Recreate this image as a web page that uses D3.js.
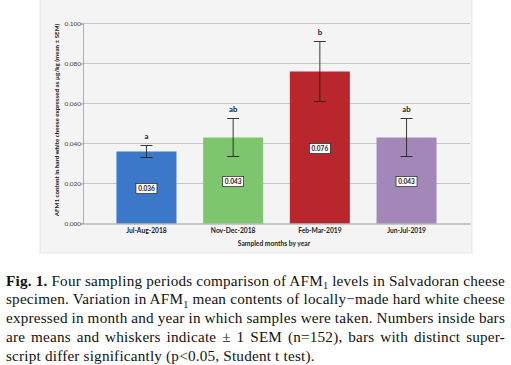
<!DOCTYPE html>
<html><head><meta charset="utf-8">
<script src="https://cdn.jsdelivr.net/npm/d3@7/dist/d3.min.js"></script>
<style>body{margin:0;background:#fff}svg{display:block}</style>
</head><body>
<svg id="c" width="511" height="365"></svg>
<script>
const categories = ["Jul-Aug-2018","Nov-Dec-2018","Feb-Mar-2019","Jun-Jul-2019"];
const means = [0.036, 0.043, 0.076, 0.043];
const sem = [0.003, 0.0095, 0.015, 0.0095];
const letters = ["a","ab","b","ab"];
const colors = ["#3b78c9","#7dc66d","#b9262e","#a287b8"];
const yTicks = [0, 0.02, 0.04, 0.06, 0.08, 0.10];
const captionLines = [
  [["b","Fig. 1."],["n","  Four sampling periods comparison of AFM"],["s","1"],["n"," levels in Salvadoran cheese"]],
  [["n","specimen. Variation in AFM"],["s","1"],["n"," mean contents of locally\u2212made hard white cheese"]],
  [["n","expressed in month and year in which samples were taken. Numbers inside bars"]],
  [["n","are means and whiskers indicate \u00b1 1 SEM (n=152), bars with distinct super-"]],
  [["n","script differ significantly (p<0.05, Student t test)."]]
];

const svg = d3.select("#c");
const sans = "Lato, 'Open Sans', sans-serif";

// panel
svg.append("rect").attr("x",40).attr("y",-1).attr("width",432).attr("height",254)
  .attr("fill","#f4f4f4").attr("stroke","#e2e2e2").attr("stroke-width",0.8);

const x = d3.scaleBand().domain(categories).range([83,470]).paddingInner(0.308).paddingOuter(0.386);
const y = d3.scaleLinear().domain([0,0.1]).range([223.5,23.5]);

// gridlines
svg.append("g").selectAll("line").data(yTicks.slice(1)).join("line")
  .attr("x1",83).attr("x2",470).attr("y1",d=>y(d)).attr("y2",d=>y(d))
  .attr("stroke","#b9b9b9").attr("stroke-width",0.8);

// y axis
const ya = svg.append("g").attr("transform","translate(83,0)")
  .call(d3.axisLeft(y).tickValues(yTicks).tickFormat(d3.format(".3f")).tickSize(2).tickPadding(0));
ya.select(".domain").attr("stroke","#9a9a9a").attr("stroke-width",0.8);
ya.selectAll(".tick line").attr("stroke","#9a9a9a");
ya.selectAll("text").attr("font-family",sans).attr("font-size",6.5).attr("fill","#444");

// bars
svg.append("g").selectAll("rect").data(categories).join("rect")
  .attr("x",d=>x(d)).attr("width",x.bandwidth())
  .attr("y",(d,i)=>y(means[i])).attr("height",(d,i)=>y(0)-y(means[i]))
  .attr("fill",(d,i)=>colors[i]);

// x axis
const xa = svg.append("g").attr("transform",`translate(0,${y(0)})`)
  .call(d3.axisBottom(x).tickSize(0).tickPadding(5));
xa.select(".domain").attr("stroke","#9a9a9a").attr("stroke-width",1.2);
xa.selectAll("text").attr("font-family",sans).attr("font-size",6.7).attr("font-weight","bold").attr("fill","#222");

// error bars
const eb = svg.append("g").attr("stroke","#222").attr("stroke-width",0.9);
categories.forEach((c,i)=>{
  const cx = x(c)+x.bandwidth()/2;
  eb.append("line").attr("x1",cx).attr("x2",cx).attr("y1",y(means[i]+sem[i])).attr("y2",y(means[i]-sem[i]));
  eb.append("line").attr("x1",cx-6).attr("x2",cx+6).attr("y1",y(means[i]+sem[i])).attr("y2",y(means[i]+sem[i]));
  eb.append("line").attr("x1",cx-6).attr("x2",cx+6).attr("y1",y(means[i]-sem[i])).attr("y2",y(means[i]-sem[i]));
  svg.append("text").attr("x",cx).attr("y",y(means[i]+sem[i])-7).attr("text-anchor","middle")
    .attr("font-family",sans).attr("font-size",7.8).attr("font-weight","bold").attr("fill","#222").text(letters[i]);
  const my = (y(means[i])+y(0))/2 + 1;
  svg.append("rect").attr("x",cx-10.5).attr("y",my-5).attr("width",21).attr("height",10)
    .attr("fill","#fff").attr("stroke","#222").attr("stroke-width",0.7);
  svg.append("text").attr("x",cx).attr("y",my+2.3).attr("text-anchor","middle")
    .attr("font-family",sans).attr("font-size",6.5).attr("font-weight","bold").attr("fill","#222")
    .text(d3.format(".3f")(means[i]));
});

// axis titles
svg.append("text").attr("x",274).attr("y",246.3).attr("text-anchor","middle")
  .attr("font-family",sans).attr("font-size",6.7).attr("font-weight","bold").attr("fill","#222")
  .text("Sampled months by year");
svg.append("text").attr("transform","translate(59,120) rotate(-90)").attr("text-anchor","middle")
  .attr("font-family",sans).attr("font-size",6.2).attr("font-weight","bold").attr("fill","#222")
  .text("AFM1 content in hard white cheese expressed as \u00b5g/kg (mean \u00b1 SEM)");

// caption
const cap = svg.append("g").attr("font-family","'Liberation Serif', serif").attr("font-size",15.2)
  .attr("letter-spacing",0.2).attr("fill","#111");
captionLines.forEach((parts,li)=>{
  const t = cap.append("text").attr("x",6).attr("y",285.5+li*18.8);
  parts.forEach((p,k)=>{
    const ts = t.append("tspan").text(p[1]);
    if(p[0]==="b") ts.attr("font-weight","bold");
    if(p[0]==="s") ts.attr("font-size",10.2).attr("dy",3.5);
    if(k>0 && parts[k-1][0]==="s") ts.attr("dy",-3.5);
  });
  if(li < captionLines.length-1){
    const text = parts.map(p=>p[1]).join("");
    const spaces = (text.match(/ /g)||[]).length;
    const w = t.node().getComputedTextLength();
    t.attr("word-spacing",(499-w)/spaces);
  }
});
</script>
</body></html>
